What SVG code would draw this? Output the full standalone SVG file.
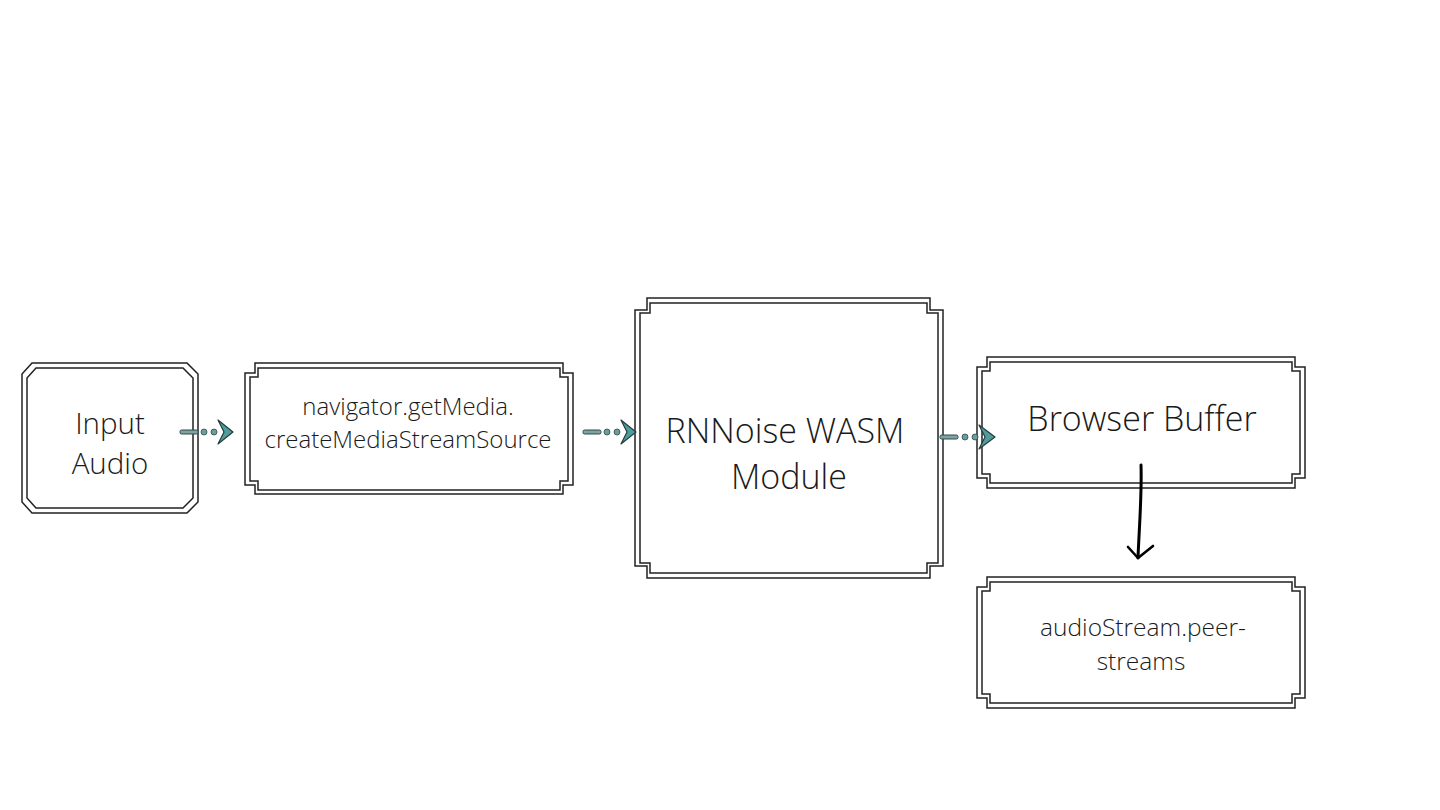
<svg xmlns="http://www.w3.org/2000/svg" width="1440" height="810" viewBox="0 0 1440 810">
<style>
.f{fill:none;stroke:#222;stroke-width:1.5}
.t{font-family:"Open Sans",sans-serif;font-weight:300;fill:#1a1a1a;text-anchor:middle}
.bar{fill:#7fa3a3;stroke:#2f4a4a;stroke-width:1}
.dot{fill:#6a9d9d;stroke:#2f4a4a;stroke-width:0.8}
.head{fill:#4f9c9c;stroke:#263c3c;stroke-width:1.2;stroke-linejoin:round}
</style>
<rect width="1440" height="810" fill="#fff"/>
<g id="input-audio">
<path class="f" d="M32,363 H187 L198,374 V502 L187,513 H32 L22,502 V374 Z"/>
<path class="f" d="M36,368 H183 L193,378 V498 L183,508 H36 L27,498 V378 Z"/>
<text class="t" x="110" y="434" font-size="29.5">Input</text>
<text class="t" x="110" y="474" font-size="29.5">Audio</text>
</g>
<g id="navigator">
<path class="f" d="M255,363 H563 V373 H573 V485 H563 V494 H255 V485 H245 V373 H255 Z"/>
<path class="f" d="M258,368 H560 V377 H568 V481 H560 V490 H258 V481 H250 V377 H258 Z"/>
<text class="t" x="408" y="415" font-size="24">navigator.getMedia.</text>
<text class="t" x="408" y="448" font-size="24">createMediaStreamSource</text>
</g>
<g id="rnnoise">
<path class="f" d="M647,298 H930 V310 H943 V566 H930 V578 H647 V566 H635 V310 H647 Z"/>
<path class="f" d="M650,303 H927 V313 H938 V563 H927 V573 H650 V563 H640 V313 H650 Z"/>
<text class="t" x="785" y="443" font-size="34">RNNoise WASM</text>
<text class="t" x="789" y="489" font-size="34">Module</text>
</g>
<g id="browser-buffer">
<path class="f" d="M987,357 H1295 V367 H1305 V478 H1295 V488 H987 V478 H977 V367 H987 Z"/>
<path class="f" d="M990,362 H1292 V371 H1300 V474 H1292 V483 H990 V474 H982 V371 H990 Z"/>
<text class="t" x="1142" y="431" font-size="34">Browser Buffer</text>
</g>
<g id="audiostream">
<path class="f" d="M987,577 H1295 V587 H1305 V698 H1295 V708 H987 V698 H977 V587 H987 Z"/>
<path class="f" d="M990,582 H1292 V591 H1300 V694 H1292 V703 H990 V694 H982 V591 H990 Z"/>
<text class="t" x="1143" y="636" font-size="24.5">audioStream.peer-</text>
<text class="t" x="1141" y="670" font-size="24.5">streams</text>
</g>
<g id="connectors">
<g>
<rect class="bar" x="180" y="430" width="18" height="4" rx="1.5"/>
<circle class="dot" cx="204" cy="432" r="3"/>
<circle class="dot" cx="214" cy="432" r="3"/>
<path class="head" d="M233,432 L218,420 L224,432 L218,444 Z"/>
</g>
<g>
<rect class="bar" x="583" y="430" width="18" height="4" rx="1.5"/>
<circle class="dot" cx="607" cy="432" r="3"/>
<circle class="dot" cx="617" cy="432" r="3"/>
<path class="head" d="M636,432 L621,420 L627,432 L621,444 Z"/>
</g>
<g>
<rect class="bar" x="940" y="435" width="18" height="4" rx="1.5"/>
<circle class="dot" cx="965" cy="437" r="3"/>
<circle class="dot" cx="975" cy="437" r="3"/>
<path class="head" d="M995,437 L979,425 L985,437 L979,449 Z"/>
</g>
<path d="M1141,465 C1142,495 1139,530 1138,558" fill="none" stroke="#000" stroke-width="3" stroke-linecap="round"/>
<path d="M1128,547 L1138,558 L1153,546" fill="none" stroke="#000" stroke-width="2.6" stroke-linecap="round" stroke-linejoin="round"/>
</g>
</svg>
